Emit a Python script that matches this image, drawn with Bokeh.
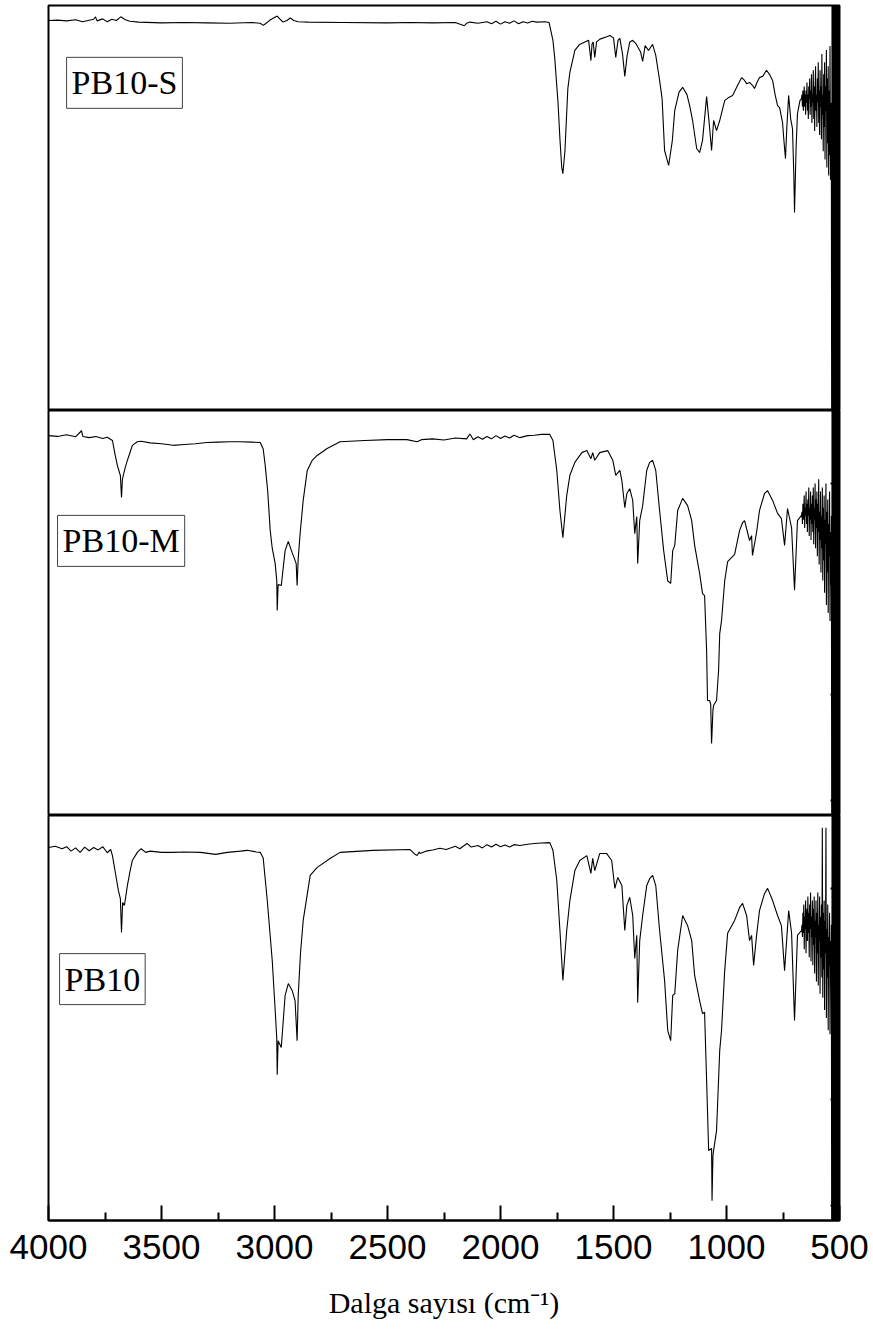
from bokeh.plotting import figure
from bokeh.models import Range1d, LinearAxis, FixedTicker, Label
from bokeh.layouts import column
from bokeh.embed import file_html
from bokeh.resources import INLINE

# ---------------- data (wavenumber cm-1, transmittance in panel units 0-100) ----------------
s_wn = [4000, 3960, 3920, 3880, 3850, 3800, 3792, 3785, 3760, 3740,
        3720, 3700, 3680, 3660, 3640, 3600, 3500, 3400, 3300, 3200,
        3100, 3063, 3050, 3040, 3020, 2988, 2975, 2962, 2945, 2930,
        2915, 2895, 2850, 2700, 2500, 2400, 2300, 2200, 2160, 2150,
        2135, 2100, 2060, 2040, 2020, 2000, 1980, 1960, 1940, 1920,
        1900, 1880, 1860, 1840, 1804, 1785, 1768, 1760, 1746, 1737,
        1729, 1724, 1715, 1702, 1693, 1671, 1650, 1627, 1610, 1600,
        1595, 1590, 1583, 1575, 1560, 1530, 1516, 1500, 1490, 1480,
        1472, 1460, 1450, 1440, 1428, 1415, 1400, 1380, 1371, 1360,
        1345, 1327, 1313, 1296, 1285, 1274, 1256, 1240, 1229, 1210,
        1194, 1175, 1163, 1150, 1132, 1119, 1106, 1088, 1075, 1066,
        1057, 1044, 1030, 1008, 990, 973, 955, 933, 920, 911,
        898, 885, 876, 865, 854, 840, 823, 810, 796, 785,
        774, 765, 752, 746, 739, 733, 725, 716, 708, 702,
        699, 692, 686, 675, 668]
s_t = [96.3, 96.4, 96.2, 96.5, 96.0, 96.6, 97.2, 96.2, 96.7, 96.0,
       96.6, 96.3, 97.2, 96.5, 96.1, 95.9, 95.7, 95.8, 95.7, 95.6,
       95.8, 95.6, 95.1, 95.5, 96.4, 97.4, 96.6, 95.9, 96.3, 96.9,
       96.3, 96.0, 95.9, 95.8, 95.7, 95.8, 95.7, 95.8, 95.0, 95.6,
       95.9, 95.6, 96.0, 95.5, 96.1, 95.4, 96.0, 95.6, 96.2, 95.5,
       96.0, 95.7, 96.1, 95.9, 96.0, 95.8, 91.4, 87.0, 76.5, 67.0,
       60.0, 58.5, 64.0, 79.5, 83.5, 88.9, 90.4, 91.0, 91.4, 86.4,
       90.5, 91.0, 87.2, 91.0, 91.7, 92.3, 92.6, 92.0, 87.2, 91.4,
       91.9, 88.0, 82.5, 87.5, 91.0, 91.4, 90.5, 88.5, 86.2, 90.1,
       88.9, 90.4, 87.7, 81.5, 77.0, 64.2, 60.5, 66.5, 74.1, 78.6,
       79.8, 78.0, 75.3, 71.6, 64.7, 63.7, 66.7, 77.5, 70.0, 64.2,
       71.6, 69.1, 71.6, 76.5, 77.3, 77.8, 79.8, 82.2, 81.5, 80.7,
       81.0, 80.3, 79.5, 81.0, 82.2, 82.5, 84.0, 83.0, 81.5, 78.0,
       75.3, 74.8, 71.1, 66.7, 62.2, 70.0, 77.8, 72.0, 69.6, 58.0,
       48.9, 65.0, 73.3, 76.5, 77.0]

m_wn = [4000, 3960, 3920, 3880, 3854, 3848, 3820, 3790, 3760, 3740,
        3717, 3705, 3695, 3685, 3682, 3677, 3673, 3669, 3660, 3651,
        3640, 3629, 3607, 3590, 3550, 3500, 3448, 3400, 3350, 3300,
        3250, 3200, 3152, 3100, 3063, 3050, 3041, 3030, 3019, 3010,
        2997, 2990, 2988, 2984, 2970, 2953, 2939, 2922, 2909, 2904,
        2900, 2895, 2886, 2873, 2855, 2833, 2811, 2767, 2710, 2600,
        2500, 2414, 2369, 2350, 2300, 2250, 2200, 2150, 2135, 2120,
        2100, 2080, 2060, 2040, 2020, 2000, 1980, 1960, 1940, 1914,
        1880, 1850, 1820, 1782, 1768, 1751, 1737, 1724, 1707, 1693,
        1671, 1640, 1618, 1600, 1592, 1583, 1561, 1526, 1503, 1490,
        1472, 1463, 1450, 1441, 1428, 1415, 1406, 1397, 1393, 1384,
        1371, 1353, 1340, 1327, 1313, 1296, 1278, 1260, 1247, 1238,
        1229, 1216, 1194, 1172, 1154, 1141, 1119, 1106, 1097, 1088,
        1084, 1075, 1070, 1066, 1060, 1057, 1044, 1035, 1030, 1022,
        1008, 995, 964, 942, 929, 920, 898, 889, 885, 867,
        854, 832, 818, 796, 774, 757, 743, 730, 712, 699,
        686, 668]
m_t = [93.8, 93.6, 94.0, 93.5, 95.0, 93.6, 93.3, 93.6, 93.1, 93.4,
       92.6, 89.0, 86.4, 84.5, 84.0, 78.5, 83.0, 84.0, 86.0, 87.7,
       89.5, 91.4, 92.3, 92.4, 92.0, 91.8, 91.4, 91.6, 91.8, 92.1,
       92.2, 92.3, 92.3, 92.2, 92.1, 90.5, 86.4, 80.0, 70.4, 66.0,
       62.2, 58.0, 50.6, 57.0, 56.8, 65.4, 67.7, 64.9, 63.0, 62.2,
       56.8, 63.5, 70.0, 77.8, 85.2, 87.7, 88.9, 90.6, 92.3, 92.6,
       92.8, 92.8, 92.3, 92.8, 93.0, 92.7, 93.2, 93.0, 94.2, 92.8,
       93.5, 92.9, 93.6, 93.0, 93.8, 93.1, 93.7, 93.2, 93.9, 93.3,
       93.8, 93.9, 94.1, 94.1, 92.6, 85.2, 75.3, 68.6, 79.0, 84.0,
       87.2, 89.6, 90.1, 88.1, 89.6, 87.7, 89.6, 90.1, 87.7, 84.0,
       85.2, 82.7, 76.0, 79.5, 80.7, 77.8, 69.6, 73.8, 62.2, 72.8,
       76.5, 85.2, 87.2, 87.7, 85.2, 75.3, 65.4, 57.9, 57.3, 65.4,
       66.7, 75.3, 78.3, 76.5, 72.8, 66.7, 59.8, 54.8, 54.3, 40.7,
       28.4, 28.4, 27.5, 17.8, 26.0, 27.2, 28.4, 35.8, 44.9, 48.1,
       57.9, 62.7, 64.5, 70.4, 72.3, 72.8, 67.9, 69.1, 64.2, 69.9,
       75.3, 79.5, 80.2, 77.8, 74.6, 73.3, 66.7, 75.8, 71.0, 55.6,
       72.8, 74.1]

b_wn = [4000, 3970, 3940, 3920, 3900, 3880, 3860, 3840, 3820, 3800,
        3780, 3760, 3740, 3725, 3717, 3700, 3691, 3682, 3677, 3672,
        3664, 3651, 3640, 3629, 3607, 3590, 3570, 3550, 3500, 3448,
        3400, 3328, 3260, 3209, 3150, 3121, 3080, 3063, 3050, 3032,
        3010, 2997, 2990, 2988, 2984, 2970, 2953, 2939, 2922, 2909,
        2900, 2895, 2885, 2873, 2842, 2811, 2754, 2710, 2564, 2400,
        2380, 2369, 2360, 2356, 2330, 2300, 2268, 2240, 2200, 2180,
        2148, 2130, 2100, 2080, 2060, 2040, 2020, 2000, 1980, 1960,
        1940, 1914, 1880, 1850, 1820, 1782, 1768, 1751, 1737, 1724,
        1707, 1693, 1671, 1649, 1618, 1600, 1592, 1583, 1561, 1530,
        1508, 1494, 1481, 1463, 1450, 1441, 1428, 1415, 1406, 1397,
        1393, 1384, 1371, 1353, 1340, 1327, 1313, 1296, 1274, 1260,
        1247, 1238, 1229, 1216, 1194, 1172, 1154, 1141, 1119, 1106,
        1097, 1088, 1079, 1066, 1064, 1060, 1057, 1044, 1030, 1022,
        1008, 995, 964, 942, 929, 911, 898, 889, 880, 867,
        854, 832, 818, 796, 774, 757, 743, 725, 712, 699,
        686, 668]
b_t = [92.1, 92.4, 91.8, 92.3, 91.2, 92.0, 90.9, 92.2, 91.3, 92.1,
       91.5, 92.3, 90.8, 91.6, 90.1, 84.5, 81.5, 79.5, 71.1, 78.5,
       77.8, 82.7, 86.0, 88.9, 90.9, 91.8, 90.9, 91.2, 90.9, 90.9,
       91.0, 90.9, 90.4, 90.9, 91.2, 91.4, 91.0, 90.9, 89.5, 79.0,
       64.2, 51.9, 45.0, 36.0, 44.4, 42.7, 55.6, 58.5, 56.8, 54.3,
       44.4, 55.6, 66.0, 74.1, 85.2, 87.2, 89.4, 90.9, 91.4, 91.6,
       90.5, 90.1, 91.0, 90.6, 91.2, 91.5, 91.9, 91.6, 92.4, 91.8,
       93.1, 92.2, 92.6, 92.0, 92.8, 92.2, 92.9, 92.3, 92.7, 92.2,
       92.8, 92.6, 92.9, 93.1, 93.2, 93.3, 91.4, 84.0, 71.6, 59.3,
       71.6, 79.0, 86.4, 88.9, 90.1, 85.7, 89.4, 86.4, 90.6, 90.6,
       88.9, 82.0, 84.7, 82.7, 71.6, 77.8, 79.8, 75.3, 64.7, 70.4,
       53.8, 69.1, 75.3, 82.7, 84.4, 85.2, 82.7, 71.6, 59.3, 46.9,
       44.4, 55.6, 56.0, 66.7, 75.3, 72.8, 69.1, 60.5, 54.3, 51.1,
       51.4, 34.6, 17.3, 17.8, 4.9, 16.0, 17.3, 22.2, 42.0, 46.9,
       61.7, 70.9, 74.1, 77.3, 78.3, 75.3, 69.1, 70.4, 63.0, 70.4,
       76.5, 80.7, 82.0, 79.0, 75.3, 72.8, 61.7, 76.5, 71.0, 49.4,
       70.4, 71.6]

# noisy low-wavenumber region (666 -> 536 cm-1)
noise_wn = [666, 664, 662, 660, 658, 656, 654, 652, 650, 648, 646, 644,
            642, 640, 638, 636, 634, 632, 630, 628, 626, 624, 622, 620,
            618, 616, 614, 612, 610, 608, 606, 604, 602, 600, 598,
            596, 594, 592, 590, 588, 586, 584, 582, 580, 578, 576,
            574, 572, 570, 568, 566, 564, 562, 560, 558, 556,
            554, 552, 550, 548, 546, 544, 542, 540, 538, 536]
s_noise = [78, 75, 79, 74, 77, 80, 75, 78, 73, 79, 76, 81,
           74, 78, 72, 80, 77, 82, 73, 79, 75, 83, 71, 78,
           76, 84, 72, 80, 69, 79, 85, 74, 78, 70, 82,
           76, 86, 71, 79, 68, 84, 75, 80, 67, 88, 73,
           78, 64, 83, 70, 86, 62, 80, 74, 89, 60,
           82, 66, 85, 58, 79, 63, 90, 57, 76, 60]
m_noise = [75, 72, 77, 73, 76, 79, 71, 76, 74, 80, 72, 77,
           70, 78, 74, 81, 69, 76, 73, 80, 68, 77, 72, 79,
           70, 81, 67, 76, 73, 82, 66, 78, 71, 80, 64,
           77, 70, 83, 62, 75, 68, 80, 60, 74, 66, 81,
           58, 76, 63, 79, 55, 73, 67, 82, 52, 75,
           60, 78, 50, 72, 64, 80, 48, 70, 57, 74]
b_noise = [73, 70, 76, 71, 78, 67, 75, 72, 79, 66, 74, 77,
           69, 80, 71, 76, 65, 78, 72, 81, 64, 75, 70, 79,
           63, 77, 68, 80, 61, 74, 70, 79, 59, 76, 66,
           81, 58, 73, 69, 80, 56, 75, 65, 78, 60, 97,
           55, 76, 62, 79, 52, 74, 66, 97, 50, 72,
           60, 78, 47, 70, 63, 76, 46, 69, 58, 73]

# detector-edge region (off scale)
tail_wn = [534, 533, 532, 531, 530, 529, 528, 527, 526, 525,
           524, 523, 522, 521, 520, 519, 518, 517, 516, 515,
           514, 513, 512, 511, 510, 509, 508, 507, 506, 505,
           504, 503, 502, 501, 500]
s_tail = [-30, 125, -45, 118, -20, 135, -60, 110, -35, 128,
          -50, 140, -25, 115, -70, 132, -40, 120, -55, 138,
          -30, 112, -65, 126, -45, 145, -20, 119, -50, 130,
          -35, 124, -60, 117, -40]
m_tail = [-25, 130, -50, 112, -35, 127, -15, 140, -60, 118,
          -30, 133, -45, 121, -70, 136, -20, 114, -55, 129,
          -40, 142, -25, 116, -65, 131, -35, 123, -50, 138,
          -30, 111, -45, 126, -60]
b_tail = [-40, 120, -20, 134, -55, 116, -30, 141, -45, 125,
          -65, 113, -35, 137, -25, 122, -50, 130, -60, 118,
          -40, 144, -30, 127, -55, 115, -20, 135, -45, 121,
          -70, 129, -35, 139, -50]

labels = ["PB10-S", "PB10-M", "PB10"]
label_x = [3920, 3960, 3951]
label_y = [87.2, 74.1, 65.9]

x_ticks = [4000, 3500, 3000, 2500, 2000, 1500, 1000, 500]
x_minor = [3750, 3250, 2750, 2250, 1750, 1250, 750]
right_ticks = [3.7, 29.9, 82.0]

# ---------------- figures ----------------
def make_fig(h, top, bottom):
    p = figure(width=871, height=h, output_backend="svg", toolbar_location=None,
               x_range=Range1d(4000, 500), y_range=Range1d(0, 100),
               x_axis_location=None, y_axis_location=None,
               min_border_left=48, min_border_right=32,
               min_border_top=top, min_border_bottom=bottom)
    p.grid.visible = False
    p.outline_line_color = "black"
    p.outline_line_width = 2
    p.background_fill_color = "white"
    p.border_fill_color = "white"
    return p


def add_right_ticks(p):
    ax = LinearAxis(ticker=FixedTicker(ticks=right_ticks, minor_ticks=[]),
                    major_label_overrides={t: "" for t in right_ticks},
                    major_label_standoff=0,
                    major_tick_in=9, major_tick_out=0,
                    minor_tick_in=0, minor_tick_out=0,
                    major_tick_line_width=2, axis_line_color=None)
    p.add_layout(ax, "right")


p1 = make_fig(410, 5, 0)
p2 = make_fig(405, 0, 0)
p3 = make_fig(519, 0, 114)

series = [(p1, s_wn, s_t, s_noise, s_tail),
          (p2, m_wn, m_t, m_noise, m_tail),
          (p3, b_wn, b_t, b_noise, b_tail)]
for i, (p, wn, t, nz, tl) in enumerate(series):
    p.line(wn + noise_wn + tail_wn, t + nz + tl, line_color="black", line_width=1.1)
    p.add_layout(Label(x=label_x[i], y=label_y[i], text=labels[i],
                       text_font="Liberation Serif", text_font_size="34px",
                       text_color="black", text_align="left", text_baseline="top",
                       border_line_color="#444444", border_line_width=1,
                       background_fill_color="white",
                       padding=dict(top=7, right=5, bottom=7, left=5)))

add_right_ticks(p2)
add_right_ticks(p3)

xa = LinearAxis(ticker=FixedTicker(ticks=x_ticks, minor_ticks=x_minor),
                axis_label="Dalga sayısı (cm⁻¹)")
xa.axis_line_width = 2
xa.major_tick_in = 15
xa.major_tick_out = 0
xa.minor_tick_in = 8
xa.minor_tick_out = 0
xa.major_tick_line_width = 2
xa.minor_tick_line_width = 2
xa.major_label_text_font = "Liberation Sans"
xa.major_label_text_font_size = "35px"
xa.major_label_text_color = "black"
xa.major_label_standoff = 14
xa.axis_label_text_font = "Liberation Serif"
xa.axis_label_text_font_size = "30px"
xa.axis_label_text_font_style = "normal"
xa.axis_label_text_color = "black"
xa.axis_label_standoff = 24
p3.add_layout(xa, "below")

layout = column(p1, p2, p3, spacing=0)
open("out.html", "w").write(file_html(layout, INLINE))
